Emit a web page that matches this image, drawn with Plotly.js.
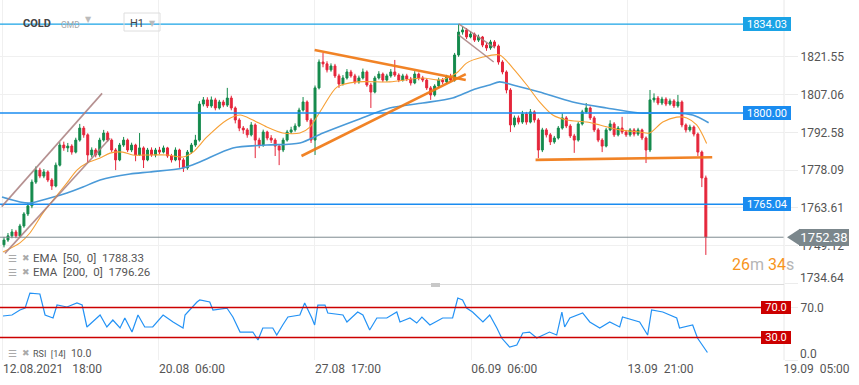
<!DOCTYPE html>
<html>
<head>
<meta charset="utf-8">
<script src="https://cdn.plot.ly/plotly-3.0.1.min.js"></script>
<style>
html,body{margin:0;padding:0;background:#fff;}
#chart{width:859px;height:385px;}
</style>
</head>
<body>
<div id="chart"></div>
<script>
// ---------- DATA ----------
const openP = [
1749.5,1751.3,1752.9,1754.4,1752.9,1756.7,1761.3,1764.4,1773.5,1778.1,
1775.8,1777.4,1774.3,1772.0,1780.0,1787.7,1786.6,1787.3,1785.0,1789.6,
1794.2,1791.6,1783.9,1785.8,1783.9,1789.6,1792.3,1789.6,1785.8,1782.0,
1787.7,1789.6,1785.8,1787.7,1783.9,1786.6,1782.0,1785.8,1783.9,1785.8,
1785.0,1786.6,1783.5,1782.0,1785.8,1782.0,1778.9,1785.0,1787.7,1789.6,
1803.4,1805.0,1802.7,1805.0,1801.9,1804.2,1803.0,1805.7,1801.9,1797.3,
1794.2,1793.5,1791.6,1795.4,1789.6,1787.7,1792.7,1790.4,1789.6,1787.3,
1785.8,1789.6,1792.7,1793.5,1795.0,1801.1,1804.2,1797.3,1789.6,1809.6,
1819.5,1818.8,1816.5,1818.0,1814.2,1811.1,1813.4,1815.7,1814.2,1811.9,
1813.4,1815.7,1810.7,1808.0,1813.4,1814.9,1812.6,1814.2,1815.7,1814.5,
1812.6,1814.2,1813.0,1811.5,1814.9,1813.4,1812.6,1809.6,1806.9,1810.3,
1812.6,1811.9,1813.8,1812.6,1822.2,1831.0,1831.8,1829.1,1830.2,1827.9,
1829.1,1826.0,1824.9,1827.2,1825.6,1819.5,1815.7,1808.8,1795.4,1798.1,
1796.5,1799.6,1796.5,1800.4,1797.3,1785.8,1793.5,1791.6,1788.9,1790.4,
1794.2,1798.1,1795.0,1791.2,1789.6,1795.8,1800.4,1801.9,1798.1,1793.5,
1789.6,1787.3,1793.5,1795.8,1791.6,1794.2,1792.7,1791.6,1793.5,1791.9,
1793.5,1790.4,1785.8,1805.0,1805.7,1803.8,1805.3,1803.4,1804.6,1802.7,
1804.2,1795.4,1793.5,1794.6,1791.9,1785.0,1775.1];
const highP = [
1752.5,1754.0,1755.5,1755.2,1757.5,1762.0,1765.5,1774.5,1779.5,1779.0,
1778.5,1778.0,1775.0,1781.0,1788.8,1789.0,1788.5,1788.0,1790.5,1795.8,
1795.0,1792.2,1786.8,1786.5,1790.5,1793.5,1793.0,1790.2,1786.5,1788.5,
1790.8,1790.2,1788.6,1788.2,1792.3,1787.2,1786.6,1786.8,1786.6,1787.0,
1787.5,1787.0,1784.3,1786.8,1786.3,1782.7,1785.8,1788.5,1791.6,1804.5,
1806.1,1806.0,1806.3,1805.8,1805.0,1805.0,1809.6,1806.6,1802.5,1798.0,
1795.0,1794.2,1796.5,1796.0,1790.5,1793.6,1793.2,1791.5,1790.3,1788.0,
1790.5,1793.5,1794.7,1796.0,1802.0,1806.1,1804.8,1798.0,1810.5,1820.5,
1823.0,1819.8,1819.0,1818.8,1815.0,1814.5,1816.8,1816.5,1815.0,1814.3,
1817.0,1816.3,1811.5,1814.2,1816.0,1815.5,1815.0,1816.8,1820.3,1815.2,
1815.0,1815.0,1813.8,1816.0,1815.5,1814.2,1813.2,1810.3,1811.0,1813.5,
1813.4,1814.6,1815.0,1823.0,1834.0,1833.0,1832.5,1831.2,1830.8,1830.0,
1829.5,1826.8,1828.0,1827.9,1826.2,1820.2,1816.3,1809.5,1799.0,1799.0,
1800.8,1800.4,1801.5,1801.0,1798.0,1794.3,1794.2,1792.3,1791.2,1795.0,
1799.8,1798.8,1795.7,1792.0,1796.5,1801.2,1803.8,1802.5,1798.8,1794.2,
1790.3,1794.3,1797.2,1796.5,1795.0,1798.5,1793.5,1794.2,1794.2,1794.3,
1794.0,1791.0,1808.8,1807.5,1806.5,1806.2,1806.0,1805.5,1805.3,1806.9,
1804.8,1796.0,1795.5,1795.2,1792.5,1785.6,1776.0];
const lowP = [
1748.5,1750.6,1752.0,1752.0,1752.3,1756.0,1760.5,1763.5,1772.8,1775.0,
1775.0,1773.5,1770.5,1771.5,1779.5,1785.5,1785.0,1784.0,1784.5,1789.0,
1790.5,1781.2,1783.0,1783.0,1783.2,1789.0,1789.0,1785.0,1778.1,1781.5,
1787.0,1785.0,1785.0,1781.5,1783.5,1778.9,1781.5,1783.2,1783.0,1784.2,
1784.5,1782.8,1781.0,1781.5,1779.0,1777.4,1778.2,1784.3,1787.0,1789.0,
1802.5,1801.9,1802.0,1801.0,1801.3,1802.2,1802.3,1801.0,1796.0,1793.0,
1792.0,1790.5,1791.0,1782.7,1786.5,1787.0,1789.5,1788.5,1783.5,1780.0,
1785.0,1789.0,1792.0,1792.8,1794.5,1800.5,1796.5,1788.5,1783.9,1809.0,
1817.5,1815.5,1815.8,1813.4,1809.6,1810.5,1812.8,1813.5,1811.0,1811.2,
1812.8,1810.0,1801.9,1807.5,1812.8,1811.8,1812.0,1813.5,1813.8,1811.8,
1812.0,1812.2,1810.5,1811.0,1812.5,1811.8,1808.8,1805.0,1806.3,1809.6,
1811.0,1811.2,1811.9,1812.0,1821.5,1830.0,1828.3,1828.6,1827.2,1827.2,
1825.2,1823.8,1824.2,1824.8,1818.5,1814.8,1807.5,1792.7,1794.5,1795.6,
1795.8,1795.5,1796.0,1796.3,1782.7,1785.0,1790.6,1787.7,1788.2,1789.8,
1793.6,1794.2,1790.4,1784.7,1789.0,1795.2,1799.8,1797.3,1792.7,1788.8,
1785.0,1786.8,1793.0,1790.8,1791.0,1791.9,1790.8,1790.9,1791.0,1791.2,
1789.6,1780.8,1785.0,1804.0,1803.0,1803.0,1802.6,1802.8,1801.9,1802.0,
1794.5,1792.5,1792.8,1791.0,1783.5,1771.6,1745.6];
const closeP = [
1751.3,1752.9,1754.4,1752.9,1756.7,1761.3,1764.4,1773.5,1778.1,1775.8,
1777.4,1774.3,1772.0,1780.0,1787.7,1786.6,1787.3,1785.0,1789.6,1794.2,
1791.6,1783.9,1785.8,1783.9,1789.6,1792.3,1789.6,1785.8,1782.0,1787.7,
1789.6,1785.8,1787.7,1783.9,1786.6,1782.0,1785.8,1783.9,1785.8,1785.0,
1786.6,1783.5,1782.0,1785.8,1782.0,1778.9,1785.0,1787.7,1789.6,1803.4,
1805.0,1802.7,1805.0,1801.9,1804.2,1803.0,1805.7,1801.9,1797.3,1794.2,
1793.5,1791.6,1795.4,1789.6,1787.7,1792.7,1790.4,1789.6,1787.3,1785.8,
1789.6,1792.7,1793.5,1795.0,1801.1,1804.2,1797.3,1789.6,1809.6,1819.5,
1818.8,1816.5,1818.0,1814.2,1811.1,1813.4,1815.7,1814.2,1811.9,1813.4,
1815.7,1810.7,1808.0,1813.4,1814.9,1812.6,1814.2,1815.7,1814.5,1812.6,
1814.2,1813.0,1811.5,1814.9,1813.4,1812.6,1809.6,1806.9,1810.3,1812.6,
1811.9,1813.8,1812.6,1822.2,1831.0,1831.8,1829.1,1830.2,1827.9,1829.1,
1826.0,1824.9,1827.2,1825.6,1819.5,1815.7,1808.8,1795.4,1798.1,1796.5,
1799.6,1796.5,1800.4,1797.3,1785.8,1793.5,1791.6,1788.9,1790.4,1794.2,
1798.1,1795.0,1791.2,1789.6,1795.8,1800.4,1801.9,1798.1,1793.5,1789.6,
1787.3,1793.5,1795.8,1791.6,1794.2,1792.7,1791.6,1793.5,1791.9,1793.5,
1790.4,1785.8,1805.0,1805.7,1803.8,1805.3,1803.4,1804.6,1802.7,1804.2,
1795.4,1793.5,1794.6,1791.9,1785.0,1775.1,1752.38];

const ema50X = [-0.25,4.0,6.5,9.8,12.3,15.8,18.3,20.8,24.1,26.6,29.8,32.3,36.6,40.9,44.9,47.4,50.9,55.9,59.2,62.4,65.9,69.9,74.2,76.7,80.0,83.5,88.5,96.7,105.0,109.3,113.5,116.0,120.1,124.3,127.6,131.1,134.3,137.6,141.1,146.1,149.4,154.4,159.4,161.9,165.2,168.7,171.2,173.7,176.2];
const ema50 = [1746.7,1750.2,1754.0,1761.7,1766.6,1773.2,1778.1,1780.8,1782.7,1784.6,1785.0,1783.9,1783.9,1783.9,1783.1,1785.0,1790.8,1797.3,1799.2,1797.3,1794.6,1792.3,1792.3,1794.6,1802.3,1809.9,1811.9,1811.9,1813.4,1812.6,1815.3,1819.1,1821.4,1822.2,1817.2,1810.7,1804.2,1799.2,1797.3,1796.5,1795.4,1793.5,1792.7,1792.3,1796.5,1798.4,1798.1,1795.4,1788.33];

const ema200X = [-0.5,4.0,6.5,11.5,15.8,19.8,24.1,31.6,36.6,44.9,49.1,57.4,65.9,74.2,80.0,88.5,96.7,105.0,112.5,117.5,121.8,124.3,127.6,134.3,142.6,151.1,159.4,167.7,172.7,176.7];
const ema200 = [1767.8,1765.9,1765.5,1767.4,1769.3,1771.6,1774.3,1776.6,1777.4,1778.9,1781.2,1786.6,1787.7,1788.5,1792.3,1797.3,1801.9,1803.8,1805.7,1808.8,1810.7,1811.9,1810.7,1808.0,1804.2,1801.9,1800.0,1800.0,1799.2,1796.26];

const rsiX = [-0.25,2.0,4.0,5.3,6.5,9.0,10.3,12.3,13.3,15.8,18.3,19.6,20.8,23.3,24.1,25.8,27.3,29.1,30.3,32.1,33.6,35.3,37.3,39.9,42.4,44.9,45.4,48.4,49.1,51.6,52.4,55.9,57.4,59.2,62.4,63.7,64.9,67.4,68.4,69.9,71.2,74.2,75.4,77.2,77.9,78.7,80.5,81.2,85.0,86.0,88.7,90.0,91.7,93.5,96.0,98.5,99.3,101.8,103.5,104.8,106.8,110.0,112.5,113.8,115.0,116.0,117.5,120.1,121.8,123.6,124.8,126.8,128.6,130.1,131.8,133.6,136.8,138.6,139.9,140.6,141.9,145.1,146.9,149.4,151.9,154.4,155.1,159.4,161.4,162.4,165.2,168.7,169.4,172.7,173.9,176.4];
const rsi = [58.7,60,66.7,69.3,89.3,88,60,56,73.3,70.7,76,73.3,44,56,60,44,53.3,42.7,56,37.3,60,44,44,60,50.7,42.7,60,77.3,80,77.3,66.7,69.3,57.3,37.3,37.3,26.7,42.7,42.7,33.3,46.7,57.3,60,76,56,46.7,73.3,73.3,62.7,60,50.7,64,60,40,56,56,64,50.7,56,49.3,57.3,46.7,56,56,82.7,80,69.3,64,50.7,60,42.7,29.3,17.3,20,36,37.3,29.3,37.3,33.3,64,44,56,62.7,50.7,42.7,50.7,44,57.3,50.7,33.3,66.7,64,56,42.7,46.7,29.3,10.0];

const timeTickIdx = [-0.25, 38.87, 77.97, 117.15, 156.37, 195.5];
const timeTickText = ['12.08.2021\u00a0\u00a0\u00a018:00','20.08\u00a0\u00a006:00','27.08\u00a0\u00a017:00','06.09\u00a0\u00a006:00','13.09\u00a0\u00a021:00','19.09\u00a0\u00a005:00'];
const priceTicks = [1734.64, 1749.12, 1763.61, 1778.09, 1792.58, 1807.06, 1821.55];
const rsiTicks = [0, 70];
const levelPrices = [1834.03, 1800.00, 1765.04];
const levelColors = ['#1aa3e6', '#1a8cf0', '#1a8cf0'];
const lastPrice = 1752.38;
const rsiLevels = [70, 30];
const ema50Last = 1788.33, ema200Last = 1796.26, rsiLast = 10.0;

// drawn trend lines: [x index, price] pairs
const channelUpA = [[-0.57, 1764.1], [24.6, 1807.5]];
const channelUpB = [[0.25, 1746.2], [26.6, 1790.3]];
const triUpper = [[77.9, 1824.1], [115.8, 1812.6]];
const triLower = [[74.6, 1783.5], [115.8, 1814.9]];
const flagUpper = [[114.0, 1834.1], [123.1, 1824.9]];
const flagLower = [[114.0, 1829.9], [122.8, 1819.5]];
const neckline = [[133.3, 1782.0], [177.6, 1783.0]];

// ---------- CHART ----------
const FONT = 'Roboto, "Open Sans", sans-serif';
const idx = closeP.map((_, i) => i);
const yMainRange = [1734.46, 1843.27];
const mainDomain = [0.2111, 1];
const rsiDomain = [0, 0.2083];
const plotW = 784;

const traces = [
  {type:'candlestick', x: idx, open: openP, high: highP, low: lowP, close: closeP,
   xaxis:'x', yaxis:'y', whiskerwidth: 0,
   increasing:{line:{color:'#148a4c', width:1}, fillcolor:'#148a4c'},
   decreasing:{line:{color:'#e5263b', width:1}, fillcolor:'#e5263b'},
   hoverinfo:'skip', showlegend:false},
  {type:'scatter', mode:'lines', x: ema200X, y: ema200, xaxis:'x', yaxis:'y',
   line:{color:'#4a9ad8', width:1.6, shape:'spline', smoothing:0.8}, hoverinfo:'skip', showlegend:false},
  {type:'scatter', mode:'lines', x: ema50X, y: ema50, xaxis:'x', yaxis:'y',
   line:{color:'#f7a035', width:1.1, shape:'spline', smoothing:0.8}, hoverinfo:'skip', showlegend:false},
  {type:'scatter', mode:'lines', x: rsiX, y: rsi, xaxis:'x', yaxis:'y2',
   line:{color:'#2392f5', width:1.2}, hoverinfo:'skip', showlegend:false}
];

const shapes = [];
const annotations = [];
const axisFont = {family:FONT, size:12, color:'#555'};

// horizontal price levels
levelPrices.forEach((p, k) => {
  shapes.push({type:'line', xref:'paper', x0:0, x1:1, yref:'y', y0:p, y1:p,
    line:{color:levelColors[k], width:1.4}, layer:'above'});
  annotations.push({xref:'paper', x: 1 + 7/plotW, xanchor:'right', yref:'y', y:p, yanchor:'middle',
    text: p.toFixed(2), showarrow:false, bgcolor:levelColors[k], borderpad:0, borderwidth:1,
    bordercolor:levelColors[k], width:46, height:12, font:{family:FONT, size:11, color:'#fff'}});
});
// last price line
shapes.push({type:'line', xref:'paper', x0:0, x1:1, yref:'y', y0:lastPrice, y1:lastPrice,
  line:{color:'#7f8b90', width:1}, layer:'above'});
shapes.push({type:'path', xref:'paper', yref:'y', xsizemode:'pixel', ysizemode:'pixel',
  xanchor:1, yanchor:lastPrice, path:'M 3 0 L 16 8.5 L 16 -8.5 Z',
  fillcolor:'#7b878c', line:{width:0}});
annotations.push({xref:'paper', x: 849/plotW, xanchor:'right', yref:'y', y:lastPrice, yanchor:'middle',
  text:lastPrice.toFixed(2), showarrow:false, bgcolor:'#7b878c', borderpad:0, borderwidth:1,
  bordercolor:'#7b878c', width:48, height:15, font:{family:FONT, size:13, color:'#fff'}});

// shifted end-of-axis labels (as in the reference, nudged up off the pane edge)
annotations.push({xref:'paper', x: 798/plotW, xanchor:'left', yref:'y', y:priceTicks[0], yanchor:'middle',
  yshift:6, text: priceTicks[0].toFixed(2), showarrow:false, font:axisFont});
annotations.push({xref:'paper', x: 798/plotW, xanchor:'left', yref:'y2', y:rsiTicks[0], yanchor:'middle',
  yshift:6, text: rsiTicks[0].toFixed(1), showarrow:false, font:axisFont});

// RSI levels
rsiLevels.forEach(v => {
  shapes.push({type:'line', xref:'paper', x0:0, x1:1, yref:'y2', y0:v, y1:v,
    line:{color:'#cc0000', width:1.3}, layer:'above'});
  annotations.push({xref:'paper', x: 1 + 7/plotW, xanchor:'right', yref:'y2', y:v, yanchor:'middle',
    text: v.toFixed(1), showarrow:false, bgcolor:'#cc0000', borderpad:0, borderwidth:1,
    bordercolor:'#cc0000', width:28, height:11, font:{family:FONT, size:11, color:'#fff'}});
});

// drawings
function seg(pts, color, width){
  shapes.push({type:'line', xref:'x', yref:'y', x0:pts[0][0], y0:pts[0][1], x1:pts[1][0], y1:pts[1][1],
    line:{color:color, width:width}, layer:'above'});
}
seg(channelUpA, 'rgba(168,125,125,0.85)', 1.6);
seg(channelUpB, 'rgba(168,125,125,0.85)', 1.6);
seg(flagUpper, 'rgba(168,125,125,0.85)', 1.4);
seg(flagLower, 'rgba(168,125,125,0.85)', 1.4);
seg(triUpper, 'rgba(240,120,20,0.92)', 2.6);
seg(triLower, 'rgba(240,120,20,0.92)', 2.6);
seg(neckline, 'rgba(240,120,20,0.92)', 2.6);

// frame lines
shapes.push({type:'line', xref:'paper', yref:'paper', x0:1, x1:1, y0:0, y1:1, line:{color:'#e8e8e8', width:1}});
shapes.push({type:'line', xref:'paper', yref:'paper', x0:0, x1:1, y0:0.2097, y1:0.2097, line:{color:'#dcdcdc', width:1}});
shapes.push({type:'rect', xref:'paper', yref:'paper', x0:431/plotW, x1:440/plotW, y0:1-287/360, y1:1-283/360,
  fillcolor:'#c8c8c8', line:{width:0}});
// H1 box
shapes.push({type:'rect', xref:'paper', yref:'paper', x0:124/plotW, x1:160/plotW, y0:1-31/360, y1:1-13/360,
  fillcolor:'rgba(255,255,255,0)', line:{color:'#dedede', width:1}});

// header texts
const hdrY = 1 - 23.5/360;
annotations.push({xref:'paper', yref:'paper', x:21/plotW, y:hdrY, xanchor:'left', yanchor:'middle', showarrow:false,
  text:'<b>COLD</b>', font:{family:FONT, size:11, color:'#444'}});
annotations.push({xref:'paper', yref:'paper', x:59/plotW, y:hdrY-0.004, xanchor:'left', yanchor:'middle', showarrow:false,
  text:'GMD', font:{family:FONT, size:8.5, color:'#a8a8a8'}});
annotations.push({xref:'paper', yref:'paper', x:83/plotW, y:hdrY+0.01, xanchor:'left', yanchor:'middle', showarrow:false,
  text:'▼', font:{family:'DejaVu Sans', size:8, color:'#bbb'}});
annotations.push({xref:'paper', yref:'paper', x:128/plotW, y:hdrY, xanchor:'left', yanchor:'middle', showarrow:false,
  text:'H1', font:{family:FONT, size:11, color:'#444'}});
annotations.push({xref:'paper', yref:'paper', x:147/plotW, y:hdrY, xanchor:'left', yanchor:'middle', showarrow:false,
  text:'▼', font:{family:'DejaVu Sans', size:8, color:'#bbb'}});

// indicator legends
function legendRow(ypx, txt, size){
  const y = 1 - ypx/360;
  annotations.push({xref:'paper', yref:'paper', x:6/plotW, y:y, xanchor:'left', yanchor:'middle', showarrow:false,
    text:'☰', font:{family:'DejaVu Sans', size:10, color:'#aaa'}});
  annotations.push({xref:'paper', yref:'paper', x:20/plotW, y:y, xanchor:'left', yanchor:'middle', showarrow:false,
    text:'✖', font:{family:'DejaVu Sans', size:9, color:'#aaa'}});
  annotations.push({xref:'paper', yref:'paper', x:31/plotW, y:y, xanchor:'left', yanchor:'middle', showarrow:false,
    text:txt, font:{family:FONT, size:size, color:'#555'}});
}
legendRow(258, 'EMA\u00a0 [50,\u00a0 0]\u00a0 ' + ema50Last.toFixed(2), 11.5);
legendRow(272, 'EMA\u00a0 [200,\u00a0 0]\u00a0 ' + ema200Last.toFixed(2), 11.5);
legendRow(353, '<span style="font-size:9px">RSI\u00a0 [14]</span>\u00a0 ' + rsiLast.toFixed(1), 10.5);

// countdown
annotations.push({xref:'paper', yref:'paper', x:763/plotW, y:1-264/360, xanchor:'center', yanchor:'middle', showarrow:false,
  text:'<span style="color:#f7941d">26</span><span style="color:#b5b5b5">m</span> <span style="color:#f7941d">34</span><span style="color:#b5b5b5">s</span>',
  font:{family:FONT, size:16, color:'#f7941d'}});

const layout = {
  width:859, height:385,
  margin:{l:0, r:75, t:0, b:25},
  paper_bgcolor:'#fff', plot_bgcolor:'#fff',
  showlegend:false,
  dragmode:false,
  xaxis:{range:[-1, 195.6], tickvals:timeTickIdx, ticktext:timeTickText, ticks:'',
    ticklabelposition:'outside right', tickfont:axisFont, showgrid:true, gridcolor:'#f0f0f0',
    zeroline:false, showline:false, anchor:'y2', rangeslider:{visible:false}, fixedrange:true},
  yaxis:{domain:mainDomain, range:yMainRange, side:'right', anchor:'x', tickvals:priceTicks,
    ticktext:priceTicks.map((v, k) => k === 0 ? '' : v.toFixed(2)), ticks:'outside', ticklen:13, tickcolor:'#ececec',
    tickfont:axisFont, showgrid:true, gridcolor:'#f0f0f0', zeroline:false, showline:false, fixedrange:true},
  yaxis2:{domain:rsiDomain, range:[0, 100], side:'right', anchor:'x', tickvals:rsiTicks,
    ticktext:rsiTicks.map((v, k) => k === 0 ? '' : v.toFixed(1)), ticks:'outside', ticklen:13, tickcolor:'#ececec',
    tickfont:axisFont, showgrid:true, gridcolor:'#f0f0f0', zeroline:false, showline:false, fixedrange:true},
  shapes: shapes,
  annotations: annotations
};

Plotly.newPlot('chart', traces, layout, {displayModeBar:false, staticPlot:true});
</script>
</body>
</html>
